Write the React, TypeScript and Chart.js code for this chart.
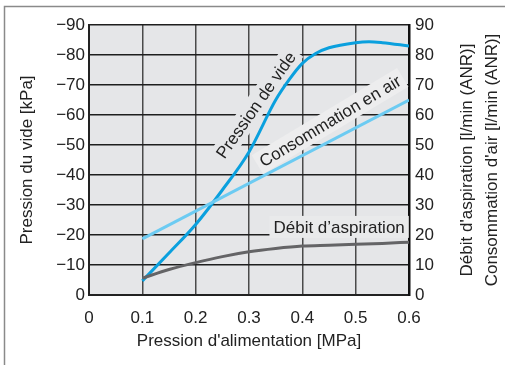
import React, { useEffect, useRef } from "react";
import { Chart, registerables } from "chart.js";

Chart.register(...registerables);

// Pression de vide [kPa] (magnitude, plotted as negative values on the left axis)
const vacuumX = [0.1, 0.15, 0.2, 0.25, 0.3, 0.35, 0.375, 0.4, 0.425, 0.45, 0.5, 0.525, 0.55, 0.6];
const vacuumY = [4.7, 14, 23.5, 35, 47.7, 65, 71.7, 77.2, 80.5, 82.4, 84.1, 84.4, 84.1, 83];

// Débit d'aspiration [l/min (ANR)]
const suctionX = [0.1, 0.15, 0.2, 0.25, 0.3, 0.35, 0.4, 0.45, 0.5, 0.55, 0.6];
const suctionY = [5.6, 8.5, 10.8, 12.8, 14.4, 15.5, 16.3, 16.6, 16.9, 17.2, 17.6];

// Consommation d'air [l/min (ANR)]
const airX = [0.1, 0.6];
const airY = [18.7, 65];

const xTicks = [0, 0.1, 0.2, 0.3, 0.4, 0.5, 0.6];
const yTicks = [0, 10, 20, 30, 40, 50, 60, 70, 80, 90];

const xTitle = "Pression d'alimentation [MPa]";
const yLeftTitle = "Pression du vide [kPa]";
const yRightTitles = ["Débit d'aspiration [l/min (ANR)]", "Consommation d'air [l/min (ANR)]"];

// in-chart labels: text, x value, axis value, axis, angle (deg)
const labelTexts = ["Pression de vide", "Consommation en air", "Débit d’aspiration"];
const labelX = [0.313, 0.452, 0.469];
const labelY = [63.3, 58, 22.7];
const labelAxis = ["y", "y2", "y2"];
const labelAngle = [-55, -31, 0];

const FONT = "'Liberation Sans', Arial, Helvetica, sans-serif";
const PLOT_BG = "#e5e6e8";
const TEXT = "#222222";

const toPts = (xs: number[], ys: number[]) => xs.map((x, i) => ({ x, y: ys[i] }));

export default function App() {
  const ref = useRef<HTMLCanvasElement | null>(null);

  useEffect(() => {
    document.body.style.margin = "0";
    const canvas = ref.current;
    if (!canvas) return;

    const decor = {
      id: "decor",
      beforeDraw(chart: any) {
        const { ctx, chartArea: a } = chart;
        ctx.save();
        ctx.fillStyle = "#ffffff";
        ctx.fillRect(0, 0, chart.width, chart.height);
        ctx.fillStyle = PLOT_BG;
        ctx.fillRect(a.left, a.top, a.right - a.left, a.bottom - a.top);
        ctx.strokeStyle = "#8a8a8a";
        ctx.lineWidth = 1.5;
        ctx.beginPath();
        ctx.moveTo(4.5, chart.height);
        ctx.lineTo(4.5, 6.5);
        ctx.lineTo(chart.width, 6.5);
        ctx.stroke();
        ctx.restore();
      },
      beforeDatasetsDraw(chart: any) {
        const { ctx } = chart;
        ctx.save();
        ctx.font = `17px ${FONT}`;
        ctx.textAlign = "center";
        ctx.textBaseline = "middle";
        labelTexts.forEach((t, i) => {
          const px = chart.scales.x.getPixelForValue(labelX[i]);
          const py = chart.scales[labelAxis[i]].getPixelForValue(labelY[i]);
          ctx.save();
          ctx.translate(px, py);
          ctx.rotate((labelAngle[i] * Math.PI) / 180);
          const w = ctx.measureText(t).width;
          ctx.fillStyle = i === 1 ? "#ededee" : i === 2 ? "#e9eaeb" : PLOT_BG;
          ctx.fillRect(-w / 2 - 4, -11, w + 8, 22);
          ctx.fillStyle = TEXT;
          ctx.fillText(t, 0, 1);
          ctx.restore();
        });
        ctx.restore();
      },
      afterDraw(chart: any) {
        const { ctx, chartArea: a } = chart;
        const cy = (a.top + a.bottom) / 2;
        ctx.save();
        ctx.font = `17px ${FONT}`;
        ctx.fillStyle = TEXT;
        ctx.textAlign = "center";
        ctx.textBaseline = "middle";
        const xs = [467.5, 492.5];
        yRightTitles.forEach((t, i) => {
          ctx.save();
          ctx.translate(xs[i], cy);
          ctx.rotate(-Math.PI / 2);
          ctx.fillText(t, 0, 0);
          ctx.restore();
        });
        ctx.restore();
      },
    };

    const chart = new Chart(canvas, {
      type: "line",
      data: {
        datasets: [
          {
            label: "Consommation en air",
            data: toPts(airX, airY),
            yAxisID: "y2",
            borderColor: "#6ccbf2",
            borderWidth: 3,
            pointRadius: 0,
            fill: false,
          },
          {
            label: "Débit d'aspiration",
            data: toPts(suctionX, suctionY),
            yAxisID: "y2",
            borderColor: "#646466",
            borderWidth: 3,
            pointRadius: 0,
            cubicInterpolationMode: "monotone",
            fill: false,
          },
          {
            label: "Pression de vide",
            data: toPts(vacuumX, vacuumY),
            yAxisID: "y",
            borderColor: "#0aa0de",
            borderWidth: 3,
            pointRadius: 0,
            cubicInterpolationMode: "monotone",
            fill: false,
          },
        ],
      },
      options: {
        animation: false,
        responsive: false,
        devicePixelRatio: 1,
        layout: { padding: { top: 25, left: 0, right: 0, bottom: 0 } },
        plugins: { legend: { display: false }, tooltip: { enabled: false } },
        scales: {
          x: {
            type: "linear",
            min: 0,
            max: 0.6,
            afterFit: (s: any) => {
              s.height = 70;
            },
            afterBuildTicks: (s: any) => {
              s.ticks = xTicks.map((v) => ({ value: v }));
            },
            ticks: {
              autoSkip: false,
              maxRotation: 0,
              padding: 13,
              color: TEXT,
              font: { family: FONT, size: 17 },
              callback: (v: any) => (Number(v) === 0 ? "0" : Number(v).toFixed(1)),
            },
            grid: { color: "#4a4a4a", lineWidth: 1.5, drawTicks: false },
            border: { color: "#222", width: 2 },
            title: {
              display: true,
              text: xTitle,
              color: TEXT,
              font: { family: FONT, size: 17 },
              padding: { top: 0, bottom: 13 },
            },
          },
          y: {
            type: "linear",
            position: "left",
            min: 0,
            max: 90,
            afterFit: (s: any) => {
              s.width = 89;
            },
            afterBuildTicks: (s: any) => {
              s.ticks = yTicks.map((v) => ({ value: v }));
            },
            ticks: {
              autoSkip: false,
              padding: 4,
              color: TEXT,
              font: { family: FONT, size: 17 },
              callback: (v: any) => (Number(v) === 0 ? "0" : "\u2212" + v),
            },
            grid: { color: "#1e1e1e", lineWidth: 1.5, drawTicks: false },
            border: { color: "#222", width: 2 },
            title: {
              display: true,
              text: yLeftTitle,
              color: TEXT,
              font: { family: FONT, size: 17 },
              padding: { top: 17, bottom: 0 },
            },
          },
          y2: {
            type: "linear",
            position: "right",
            min: 0,
            max: 90,
            afterFit: (s: any) => {
              s.width = 96;
            },
            afterBuildTicks: (s: any) => {
              s.ticks = yTicks.map((v) => ({ value: v }));
            },
            ticks: {
              autoSkip: false,
              padding: 6,
              color: TEXT,
              font: { family: FONT, size: 17 },
            },
            grid: { drawOnChartArea: false, drawTicks: false },
            border: { color: "#111", width: 2.5 },
          },
        },
      },
      plugins: [decor],
    } as any);

    return () => chart.destroy();
  }, []);

  return (
    <div style={{ width: 505, height: 365 }}>
      <canvas ref={ref} width={505} height={365} />
    </div>
  );
}
